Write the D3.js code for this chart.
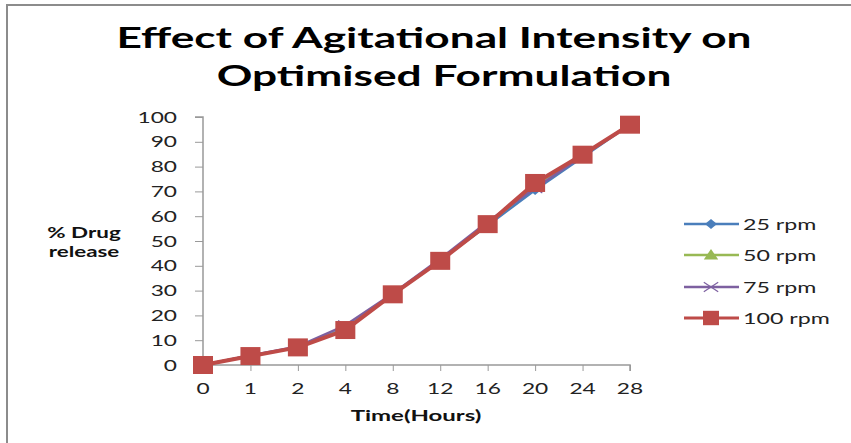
<!DOCTYPE html>
<html>
<head>
<meta charset="utf-8">
<script src="https://cdnjs.cloudflare.com/ajax/libs/d3/7.8.5/d3.min.js"></script>
<style>
  html, body { margin: 0; padding: 0; background: #fff; }
  svg { display: block; }
</style>
</head>
<body>
<svg id="chart" width="851" height="443"></svg>
<script>
// Sampling times (hours), shown as evenly spaced categories
const timeLabels = ["0", "1", "2", "4", "8", "12", "16", "20", "24", "28"];
// % drug released at each agitation speed
const rpm25  = [0, 3.8, 7.2, 14.8, 28.5, 42.3, 56.3, 70.6, 83.8, 97.0];
const rpm50  = [0, 3.7, 7.2, 14.6, 28.6, 42.2, 56.7, 72.5, 84.6, 97.0];
const rpm75  = [0, 3.8, 7.5, 16.0, 28.8, 42.8, 57.8, 71.3, 84.3, 97.2];
const rpm100 = [0, 3.6, 7.1, 14.1, 28.5, 42.0, 56.8, 73.4, 84.8, 96.9];
const seriesNames = ["25 rpm", "50 rpm", "75 rpm", "100 rpm"];
const yTicks = [0, 10, 20, 30, 40, 50, 60, 70, 80, 90, 100];

const series = [
  { name: seriesNames[0], values: rpm25,  color: "#4a7ebb", marker: "diamond",  width: 2.5 },
  { name: seriesNames[1], values: rpm50,  color: "#98b954", marker: "triangle", width: 2.5 },
  { name: seriesNames[2], values: rpm75,  color: "#7d60a0", marker: "cross",    width: 2.5 },
  { name: seriesNames[3], values: rpm100, color: "#be4b48", marker: "square",   width: 4 }
];

const svg = d3.select("#chart");
const plotLeft = 203, plotRight = 630, plotTop = 117, plotBottom = 365;
const font = "Lato, Carlito, 'Open Sans', sans-serif";
const wide = 1.42; // horizontal stretch of the lettering

// text placed at (x, y) and widened horizontally by sx
function addText(parent, x, y, str, opts) {
  const o = Object.assign({ size: 16, weight: "normal", anchor: "start", sx: wide, fill: "#222" }, opts);
  const g = parent.append("g").attr("transform", `translate(${x},${y}) scale(${o.sx},1)`);
  g.append("text").attr("x", 0).attr("y", 0)
    .attr("text-anchor", o.anchor)
    .attr("font-family", font).attr("font-weight", o.weight)
    .attr("font-size", o.size).attr("fill", o.fill).text(str);
  return g;
}

// outer frame
svg.append("path")
  .attr("d", "M7,460 L7,5 L860,5")
  .attr("fill", "none").attr("stroke", "#8c8c8c").attr("stroke-width", 2);

// title
addText(svg, 434, 48, "Effect of Agitational Intensity on", { size: 28, weight: "bold", anchor: "middle", sx: 1.58, fill: "#000" });
addText(svg, 444, 86, "Optimised Formulation", { size: 28, weight: "bold", anchor: "middle", sx: 1.58, fill: "#000" });

const x = d3.scalePoint().domain(timeLabels).range([plotLeft, plotRight]);
const y = d3.scaleLinear().domain([0, 100]).range([plotBottom, plotTop]);

// y axis
const yAxis = svg.append("g")
  .attr("transform", `translate(${plotLeft},0)`)
  .call(d3.axisLeft(y).tickValues(yTicks).tickSize(8).tickFormat(""));
yAxis.select(".domain").attr("stroke", "#999").attr("stroke-width", 1.5).attr("d", `M-8,${plotTop}H0V${plotBottom}H-8`);
yAxis.selectAll(".tick line").attr("stroke", "#999");
yTicks.forEach(t => addText(svg, 177, y(t) + 5.5, String(t), { size: 16, anchor: "end" }));

// x axis
const xAxis = svg.append("g")
  .attr("transform", `translate(0,${plotBottom})`)
  .call(d3.axisBottom(x).tickSize(6).tickFormat(""));
xAxis.select(".domain").attr("stroke", "#999").attr("stroke-width", 1.5).attr("d", `M${plotLeft},0H${plotRight}V6`);
xAxis.selectAll(".tick line").attr("stroke", "#999");
timeLabels.forEach(t => addText(svg, x(t), 394, t, { size: 16, anchor: "middle" }));

// axis titles
addText(svg, 416, 421, "Time(Hours)", { size: 16, weight: "bold", anchor: "middle", sx: 1.5, fill: "#111" });
addText(svg, 84, 238, "% Drug", { size: 16, weight: "bold", anchor: "middle", sx: 1.4, fill: "#111" });
addText(svg, 84, 257, "release", { size: 16, weight: "bold", anchor: "middle", sx: 1.4, fill: "#111" });

function drawMarker(g, kind, color, cx, cy, scale) {
  const s = scale || 1;
  if (kind === "diamond") {
    const r = 5 * s;
    g.append("path").attr("d", `M${cx},${cy - r}L${cx + r * 1.2},${cy}L${cx},${cy + r}L${cx - r * 1.2},${cy}Z`).attr("fill", color);
  } else if (kind === "triangle") {
    const r = 6 * s;
    g.append("path").attr("d", `M${cx},${cy - r}L${cx + r * 1.2},${cy + r * 0.75}L${cx - r * 1.2},${cy + r * 0.75}Z`).attr("fill", color);
  } else if (kind === "cross") {
    const r = 6 * s;
    g.append("path").attr("d", `M${cx - r * 1.2},${cy - r * 0.8}L${cx + r * 1.2},${cy + r * 0.8}M${cx - r * 1.2},${cy + r * 0.8}L${cx + r * 1.2},${cy - r * 0.8}`)
      .attr("stroke", color).attr("stroke-width", 1.2).attr("fill", "none");
  } else if (kind === "square") {
    const w = 20 * s, h = 18 * s;
    g.append("rect").attr("x", cx - w / 2).attr("y", cy - h / 2).attr("width", w).attr("height", h).attr("fill", color);
  }
}

const line = d3.line().x((d, i) => x(timeLabels[i])).y(d => y(d));

series.forEach(s => {
  const g = svg.append("g");
  g.append("path").datum(s.values).attr("d", line)
    .attr("fill", "none").attr("stroke", s.color).attr("stroke-width", s.width)
    .attr("stroke-linejoin", "round");
  s.values.forEach((v, i) => drawMarker(g, s.marker, s.color, x(timeLabels[i]), y(v), 1));
});

// legend
const legendY = [224, 255, 287, 318];
series.forEach((s, i) => {
  const g = svg.append("g");
  const ly = legendY[i];
  g.append("line").attr("x1", 684).attr("x2", 739).attr("y1", ly).attr("y2", ly)
    .attr("stroke", s.color).attr("stroke-width", s.name === "100 rpm" ? 3 : 2.5);
  drawMarker(g, s.marker, s.color, 711, ly, s.marker === "square" ? 0.8 : 1);
  addText(svg, 743, ly + 5.5, s.name, { size: 16, sx: 1.45 });
});
</script>
</body>
</html>
